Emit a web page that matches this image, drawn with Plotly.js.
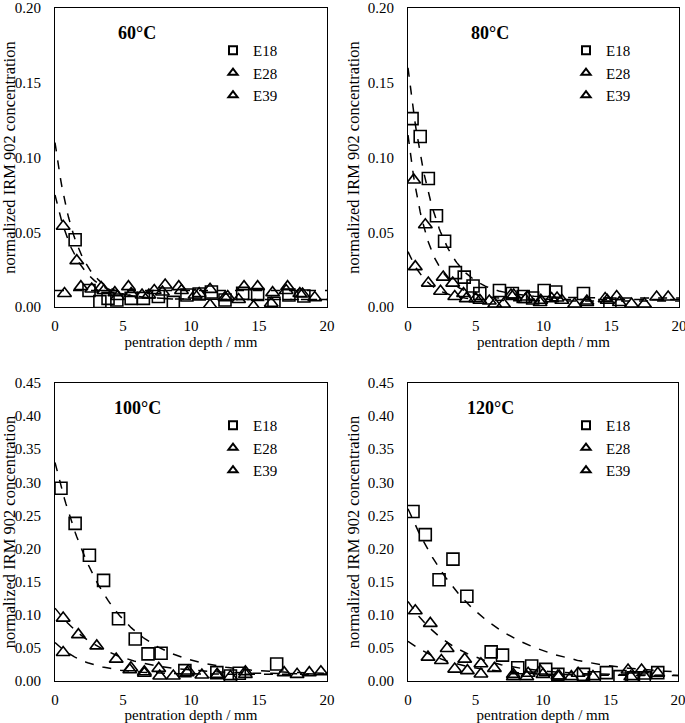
<!DOCTYPE html>
<html>
<head>
<meta charset="utf-8">
<script src="https://cdn.plot.ly/plotly-3.0.1.min.js"></script>
<style>html,body{margin:0;padding:0;background:#fff;}#chart{width:685px;height:723px;}</style>
</head>
<body>
<div id="chart"></div>
<script>
// ---------- data ----------
const panelTitles = ["60°C", "80°C", "100°C", "120°C"];
const seriesNames = ["E18", "E28", "E39"];
const xTickVals = [0, 5, 10, 15, 20];

// 60°C
const p60_E18_x = [1.48, 2.5, 3.3, 3.9, 4.55, 5.6, 6.5, 7.6, 8.7, 9.7, 10.6, 11.5, 12.5, 13.8, 14.9, 16.1, 17.2, 18.3];
const p60_E18_y = [0.045, 0.011, 0.0036, 0.0058, 0.0047, 0.0058, 0.0058, 0.007, 0.0031, 0.008, 0.0087, 0.010, 0.0047, 0.0091, 0.0084, 0.0025, 0.008, 0.0074];
const p60_E28_x = [0.6, 1.6, 2.7, 3.4, 4.4, 5.4, 6.4, 7.3, 8.1, 9.1, 10.3, 11.4, 12.5, 13.5, 14.6, 15.9, 17.1, 18.2, 19.1];
const p60_E28_y = [0.054, 0.031, 0.012, 0.013, 0.0096, 0.0136, 0.008, 0.011, 0.0147, 0.0136, 0.008, 0.0118, 0.0063, 0.005, 0.0003, 0.0025, 0.0136, 0.0087, 0.0063];
const p60_E39_x = [0.7, 1.9, 3.6, 4.6, 5.6, 6.9, 7.9, 9.3, 10.6, 11.4, 12.7, 13.9, 14.9, 16.0, 17.0, 18.0];
const p60_E39_y = [0.009, 0.0136, 0.011, 0.007, 0.009, 0.008, 0.010, 0.011, 0.009, 0.0013, 0.007, 0.0136, 0.0136, 0.0096, 0.011, 0.009];

// 80°C
const p80_E18_x = [0.3, 0.9, 1.5, 2.1, 2.7, 3.5, 4.15, 4.8, 5.3, 6.75, 7.7, 8.5, 9.2, 10.05, 10.9, 12.95, 14.9];
const p80_E18_y = [0.126, 0.114, 0.086, 0.061, 0.044, 0.023, 0.020, 0.014, 0.009, 0.011, 0.009, 0.007, 0.006, 0.011, 0.010, 0.009, 0.002];
const p80_E28_x = [0.42, 1.28, 2.6, 3.3, 4.1, 5.0, 6.0, 7.6, 8.8, 9.8, 11.0, 13.2, 14.7, 15.6];
const p80_E28_y = [0.085, 0.055, 0.020, 0.016, 0.009, 0.0056, 0.004, 0.008, 0.0067, 0.0045, 0.006, 0.004, 0.0045, 0.003];
const p80_E39_x = [0.54, 1.5, 2.4, 3.45, 4.3, 5.3, 6.4, 7.05, 7.8, 8.65, 9.75, 10.6, 11.35, 12.3, 13.2, 14.55, 15.4, 16.5, 17.45, 18.35, 19.2];
const p80_E39_y = [0.027, 0.016, 0.0105, 0.007, 0.0056, 0.0045, 0.002, 0.002, 0.008, 0.005, 0.003, 0.0056, 0.0045, 0.002, 0.003, 0.0056, 0.007, 0.002, 0.002, 0.0067, 0.0067];

// 100°C
const p100_E18_x = [0.44, 1.48, 2.53, 3.57, 4.67, 5.9, 6.84, 7.8, 9.55, 11.9, 12.9, 13.55, 16.3];
const p100_E18_y = [0.291, 0.238, 0.190, 0.152, 0.094, 0.0635, 0.041, 0.042, 0.0156, 0.0126, 0.0076, 0.0116, 0.0257];
const p100_E28_x = [0.6, 1.72, 3.07, 4.5, 5.58, 6.57, 7.63, 9.72, 10.8, 11.9, 14.0, 16.85, 17.8, 18.7, 19.55];
const p100_E28_y = [0.095, 0.070, 0.053, 0.033, 0.020, 0.014, 0.019, 0.0126, 0.009, 0.009, 0.014, 0.0126, 0.010, 0.0126, 0.014];
const p100_E39_x = [0.6, 5.5, 6.57, 7.7, 8.7, 9.8, 11.93, 12.9, 14.0];
const p100_E39_y = [0.043, 0.017, 0.0116, 0.0076, 0.0076, 0.015, 0.010, 0.0066, 0.010];

// 120°C
const p120_E18_x = [0.37, 1.28, 2.3, 3.33, 4.36, 6.16, 7.0, 8.13, 9.16, 10.2, 11.1, 13.0, 13.8, 14.7, 15.7, 16.7, 17.5, 18.5];
const p120_E18_y = [0.256, 0.221, 0.153, 0.184, 0.128, 0.044, 0.039, 0.020, 0.0227, 0.0176, 0.010, 0.010, 0.005, 0.0126, 0.0066, 0.005, 0.005, 0.0126];
const p120_E28_x = [0.54, 1.65, 2.9, 4.2, 5.4, 6.4, 7.8, 8.9, 9.8, 11.1, 12.6, 13.7, 16.3, 17.3, 18.5];
const p120_E28_y = [0.106, 0.087, 0.049, 0.033, 0.026, 0.019, 0.010, 0.0116, 0.015, 0.0076, 0.0116, 0.0066, 0.0166, 0.0166, 0.0116];
const p120_E39_x = [1.48, 2.47, 3.46, 4.4, 5.4, 7.8, 8.8, 10.0, 11.2, 12.1, 16.5, 17.5];
const p120_E39_y = [0.036, 0.031, 0.018, 0.0156, 0.0106, 0.0066, 0.0066, 0.010, 0.0076, 0.0066, 0.0066, 0.0076];

// exponential fit parameters: [y(0), decay k, plateau c]
const fit60 = [[0.110, 0.65, 0.005], [0.075, 0.59, 0.005], [0.011, 0.0, 0.011]];
const fit80 = [[0.160, 0.52, 0.006], [0.115, 0.70, 0.005], [0.037, 0.67, 0.004]];
const fit100 = [[0.330, 0.27, 0.010], [0.110, 0.275, 0.010], [0.058, 0.42, 0.010]];
const fit120 = [[0.260, 0.19, 0.008], [0.120, 0.276, 0.008], [0.060, 0.30, 0.008]];

const yMax = [0.20, 0.20, 0.45, 0.45];
const yDtick = [0.05, 0.05, 0.05, 0.05];

// ---------- build ----------
const panels = [
  {xs: [p60_E18_x, p60_E28_x, p60_E39_x], ys: [p60_E18_y, p60_E28_y, p60_E39_y], fit: fit60},
  {xs: [p80_E18_x, p80_E28_x, p80_E39_x], ys: [p80_E18_y, p80_E28_y, p80_E39_y], fit: fit80},
  {xs: [p100_E18_x, p100_E28_x, p100_E39_x], ys: [p100_E18_y, p100_E28_y, p100_E39_y], fit: fit100},
  {xs: [p120_E18_x, p120_E28_x, p120_E39_x], ys: [p120_E18_y, p120_E28_y, p120_E39_y], fit: fit120}
];
const symbols = ["square-open", "triangle-up-open", "triangle-up-open"];
const W = 685, H = 723;
// pixel boxes [left, right, top, bottom]
const boxes = [[55, 327, 8, 307], [408, 679, 8, 307], [55, 327, 383, 681], [408, 678, 383, 681]];
const FONT = "Liberation Serif, Times New Roman, serif";

const traces = [];
const layout = {
  width: W, height: H,
  margin: {l: 0, r: 0, t: 0, b: 0},
  paper_bgcolor: "#fff", plot_bgcolor: "#fff",
  font: {family: FONT, size: 15, color: "#000"},
  annotations: []
};

const curveX = [];
for (let i = 0; i <= 200; i++) curveX.push(i * 0.1);

panels.forEach((p, i) => {
  const n = i + 1;
  const xa = "x" + (n === 1 ? "" : n), ya = "y" + (n === 1 ? "" : n);
  const legendId = "legend" + (n === 1 ? "" : n);
  // fit curves
  p.fit.forEach((f) => {
    traces.push({
      x: curveX, y: curveX.map(x => (f[0] - f[2]) * Math.exp(-f[1] * x) + f[2]),
      xaxis: xa, yaxis: ya, mode: "lines", showlegend: false, hoverinfo: "skip",
      line: {color: "#000", width: 1.5, dash: "dash"}
    });
  });
  // data
  seriesNames.forEach((name, s) => {
    traces.push({
      x: p.xs[s], y: p.ys[s], name: name, xaxis: xa, yaxis: ya, showlegend: false,
      mode: "markers", type: "scatter",
      marker: {symbol: symbols[s], size: 12, color: "#000", line: {color: "#000", width: 1.6}}
    });
  });
  // legend entries (smaller symbols, as in the reference key)
  seriesNames.forEach((name, s) => {
    traces.push({
      x: [null], y: [null], name: name, xaxis: xa, yaxis: ya, legend: legendId,
      mode: "markers", type: "scatter", hoverinfo: "skip",
      marker: {symbol: symbols[s], size: 8, color: "#000", line: {color: "#000", width: 2}}
    });
  });
  const b = boxes[i];
  const xd = [b[0] / W, b[1] / W];
  const yd = [1 - b[3] / H, 1 - b[2] / H];
  layout["xaxis" + (n === 1 ? "" : n)] = {
    domain: xd, anchor: ya, range: [0, 20], tickvals: xTickVals,
    showline: true, mirror: true, linecolor: "#000", linewidth: 1,
    showgrid: false, zeroline: false, ticks: "", ticklabelstandoff: 5,
    ticklabeloverflow: "allow",
    tickfont: {family: FONT, size: 15},
    title: {text: "pentration depth / mm", font: {family: FONT, size: 15}, standoff: 3}
  };
  layout["yaxis" + (n === 1 ? "" : n)] = {
    domain: yd, anchor: xa, range: [0, yMax[i]], dtick: yDtick[i], tickformat: ".2f",
    showline: true, mirror: true, linecolor: "#000", linewidth: 1,
    showgrid: false, zeroline: false, ticks: "", ticklabelstandoff: 10,
    ticklabeloverflow: "allow",
    tickfont: {family: FONT, size: 15},
    title: {text: "normalized IRM 902 concentration", font: {family: FONT, size: 16.5}, standoff: 3}
  };
  layout[legendId] = {
    x: (b[0] + 158) / W, y: 1 - (b[2] + 26) / H, xanchor: "left", yanchor: "top",
    bgcolor: "rgba(0,0,0,0)", borderwidth: 0, font: {family: FONT, size: 15},
    itemwidth: 30, tracegroupgap: 0
  };
  layout.annotations.push({
    text: "<b>" + panelTitles[i] + "</b>", xref: "paper", yref: "paper",
    x: (b[0] + 82) / W, y: 1 - (b[2] + 25) / H, xanchor: "center", yanchor: "middle",
    showarrow: false, font: {family: FONT, size: 18, color: "#000"}
  });
});

Plotly.newPlot("chart", traces, layout, {displayModeBar: false, staticPlot: true});
</script>
</body>
</html>
